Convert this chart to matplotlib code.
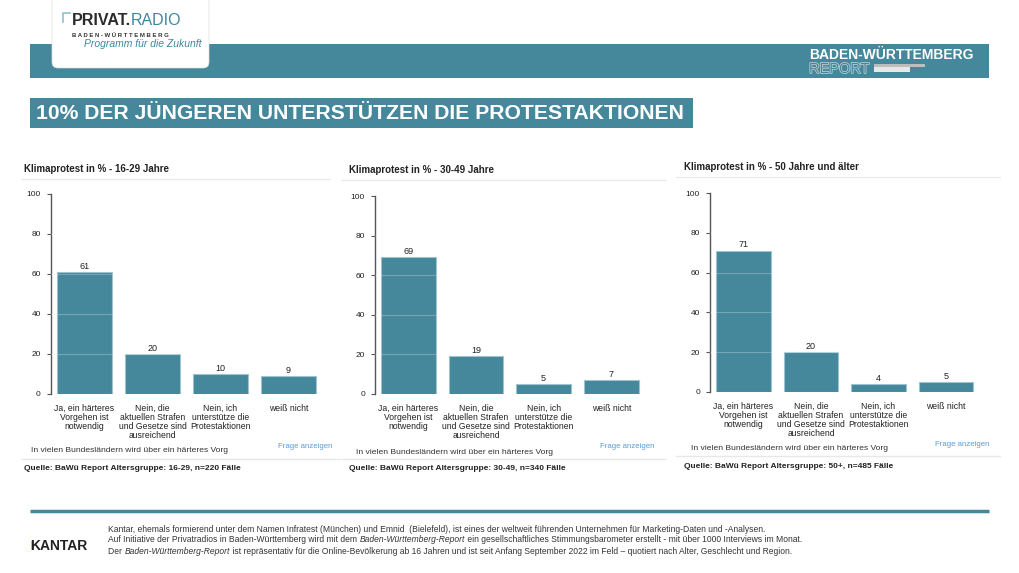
import matplotlib
matplotlib.use("Agg")
import matplotlib.pyplot as plt
from matplotlib.patches import Rectangle, FancyBboxPatch
import matplotlib.patheffects as pe
from matplotlib import font_manager

# ---------------- data ----------------
categories = ["Ja, ein härteres\nVorgehen ist\nnotwendig",
              "Nein, die\naktuellen Strafen\nund Gesetze sind\nausreichend",
              "Nein, ich\nunterstütze die\nProtestaktionen",
              "weiß nicht"]
values_16_29 = [61, 20, 10, 9]
values_30_49 = [69, 19, 5, 7]
values_50plus = [71, 20, 4, 5]
y_ticks = [0, 20, 40, 60, 80, 100]
panel_titles = ["Klimaprotest in % - 16-29 Jahre",
                "Klimaprotest in % - 30-49 Jahre",
                "Klimaprotest in % - 50 Jahre und älter"]
panel_sources = ["Quelle: BaWü Report Altersgruppe: 16-29, n=220 Fälle",
                 "Quelle: BaWü Report Altersgruppe: 30-49, n=340 Fälle",
                 "Quelle: BaWü Report Altersgruppe: 50+, n=485 Fälle"]
question_note = "In vielen Bundesländern wird über ein härteres Vorg"
link_text = "Frage anzeigen"
main_title = "10% DER JÜNGEREN UNTERSTÜTZEN DIE PROTESTAKTIONEN"
footer_lines = [
    [("Kantar, ehemals formierend unter dem Namen Infratest (München) und Emnid  (Bielefeld), ist eines der weltweit führenden Unternehmen für Marketing-Daten und -Analysen.", False)],
    [("Auf Initiative der Privatradios in Baden-Württemberg wird mit dem ", False),
     ("Baden-Württemberg-Report", True),
     (" ein gesellschaftliches Stimmungsbarometer erstellt - mit über 1000 Interviews im Monat.", False)],
    [("Der ", False), ("Baden-Württemberg-Report", True),
     (" ist repräsentativ für die Online-Bevölkerung ab 16 Jahren und ist seit Anfang September 2022 im Feld – quotiert nach Alter, Geschlecht und Region.", False)],
]

# ---------------- style ----------------
TEAL = "#45879b"
EDGE = "#9cc3cf"
FONT = "Liberation Sans"
avail = {f.name for f in font_manager.fontManager.ttflist}
NARROW = "Liberation Sans Narrow" if "Liberation Sans Narrow" in avail else FONT
plt.rcParams["font.family"] = [FONT, "DejaVu Sans"]

W, H = 1019, 573
fig = plt.figure(figsize=(W / 100, H / 100), dpi=100)
bg = fig.add_axes([0, 0, 1, 1])
bg.set_xlim(0, W)
bg.set_ylim(H, 0)
bg.axis("off")

# header band
bg.add_patch(Rectangle((30, 44), 959, 34, color=TEAL, lw=0))
# logo box
bg.add_patch(FancyBboxPatch((52, -10), 157, 78, boxstyle="round,pad=0,rounding_size=6",
                            fc="white", ec="#dddddd", lw=0.5, zorder=3))
bg.plot([63, 63, 70], [22, 13, 13], color="#8fbfd0", lw=1.2, zorder=4)
t1 = bg.text(72, 25, "PRIVAT.", fontsize=11.5, fontweight="bold", color="#2a2a2a",
             va="baseline", zorder=5)
bg.annotate("RADIO", xy=(1, 0), xycoords=t1, va="bottom", ha="left", fontsize=11.5,
            color="#3f86a0", zorder=5)
bg.text(72, 35.5, "B A D E N - W Ü R T T E M B E R G", fontsize=4.3, fontweight="bold",
        color="#333333", va="center", zorder=5)
bg.text(84, 44, "Programm für die Zukunft", fontsize=7.5, style="italic",
        color="#3f86a0", va="center", zorder=5)

# right header
bg.text(809, 55, "BADEN-WÜRTTEMBERG", fontsize=10, fontweight="bold", color="white",
        va="center", ha="left")
bg.text(809, 69, "REPORT", fontsize=10.5, color=TEAL, va="center", ha="left",
        path_effects=[pe.Stroke(linewidth=1.0, foreground="#cfd6d8"), pe.Normal()])
bg.add_patch(Rectangle((874, 64), 51, 3, color="#bdbdbd", lw=0))
bg.add_patch(Rectangle((874, 67), 36, 5, color="#e8e8e8", lw=0))

# title box
bg.add_patch(Rectangle((30, 98), 663, 30, color=TEAL, lw=0))
bg.text(36, 113.5, main_title, fontsize=15.2, fontweight="bold", color="white",
        va="center", ha="left")

# ---------------- panels ----------------
panels = [
    dict(vals=values_16_29, ax=(50.5, 194, 322.5, 394), title=(24, 169), tline=(22, 330, 179),
         note=(31, 451), link=(332, 446), bline=(22, 340, 459), src=(24, 469)),
    dict(vals=values_30_49, ax=(374.7, 196, 645, 394), title=(349, 170), tline=(342, 665, 180),
         note=(356, 452), link=(654, 446), bline=(342, 665, 459), src=(349, 469)),
    dict(vals=values_50plus, ax=(709.7, 193, 979.8, 392), title=(684, 167), tline=(676, 1000, 177),
         note=(691, 448), link=(989, 444), bline=(676, 1000, 456), src=(684, 466)),
]

for i, p in enumerate(panels):
    l, t, r, b = p["ax"]
    ax = fig.add_axes([l / W, 1 - b / H, (r - l) / W, (b - t) / H])
    x = list(range(len(categories)))
    bars = ax.bar(x, p["vals"], width=0.81, color=TEAL, edgecolor=EDGE, linewidth=0.8, zorder=2)
    for g in y_ticks[1:-1]:
        ax.axhline(g, color="white", alpha=0.25, lw=0.8, zorder=3)
    ax.bar_label(bars, labels=[str(v) for v in p["vals"]], padding=1, fontsize=6.5, color="#222222")
    ax.set_xlim(-0.5, 3.5)
    ax.set_ylim(0, 100)
    ax.set_yticks(y_ticks)
    ax.set_yticklabels([str(v) for v in y_ticks], fontsize=6, color="#222222")
    ax.set_xticks(x)
    ax.set_xticklabels(categories, fontsize=6.2, color="#222222", linespacing=1.0, va="top")
    ax.tick_params(axis="x", length=0, pad=7)
    ax.tick_params(axis="y", length=3, width=0.8, color="#555555", pad=4)
    for s in ["top", "right", "bottom"]:
        ax.spines[s].set_visible(False)
    ax.spines["left"].set_color("#555555")
    ax.spines["left"].set_linewidth(1.0)
    ax.set_facecolor("none")

    bg.text(p["title"][0], p["title"][1], panel_titles[i], fontsize=7, fontweight="bold",
            color="#222222", va="center", ha="left")
    x0, x1, yl = p["tline"]
    bg.plot([x0, x1], [yl, yl], color="#e8e8e8", lw=0.8)
    bg.text(p["note"][0], p["note"][1], question_note, fontsize=6.1, color="#333333",
            va="center", ha="left")
    bg.text(p["link"][0], p["link"][1], link_text, fontsize=5.6, color="#5b9bd5",
            va="center", ha="right")
    x0, x1, yl = p["bline"]
    bg.plot([x0, x1], [yl, yl], color="#e8e8e8", lw=1.0)
    bg.text(p["src"][0], p["src"][1], panel_sources[i], fontsize=6.0, fontweight="bold",
            color="#222222", va="center", ha="left")

# ---------------- footer ----------------
bg.plot([30, 989], [511, 511], color=TEAL, lw=2.5, solid_capstyle="butt")
bg.text(30, 545.5, "KANTAR", fontsize=10, color="#222222", va="center", ha="left",
        fontweight="bold")
bg.add_patch(Rectangle((30.6, 540.5), 1.6, 9.5, color="#f2b800", lw=0, zorder=5))

fy = [529, 540, 551]
for line, y in zip(footer_lines, fy):
    prev = None
    for txt, ital in line:
        kw = dict(fontsize=6.15, color="#333333", style="italic" if ital else "normal",
                  family=[NARROW, "DejaVu Sans"])
        if prev is None:
            prev = bg.text(108, y, txt, va="center", ha="left", **kw)
        else:
            prev = bg.annotate(txt, xy=(1, 0.5), xycoords=prev, va="center", ha="left", **kw)

fig.savefig("out.png", dpi=100)
